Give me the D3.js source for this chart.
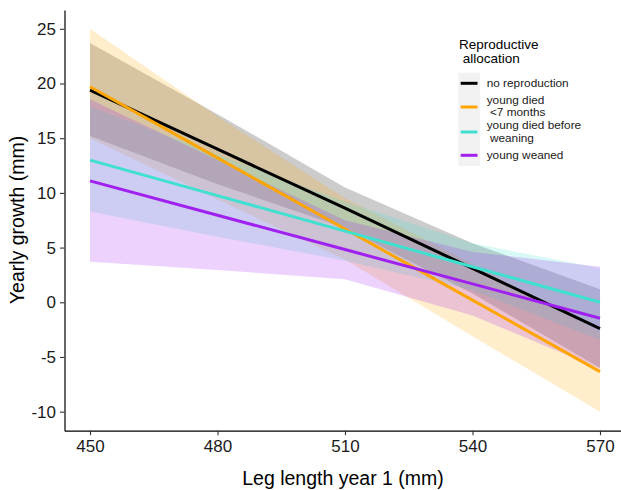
<!DOCTYPE html>
<html>
<head>
<meta charset="utf-8">
<script src="https://cdn.jsdelivr.net/npm/d3@7"></script>
<style>
  body { margin: 0; background: #fff; }
  text { font-family: "Liberation Sans", Arial, sans-serif; }
</style>
</head>
<body>
<svg width="621" height="490"></svg>
<script>
// Data
var legLength = [450, 480, 510, 540, 570];

var groupNames = ["no reproduction", "young died\n <7 months", "young died before\n weaning", "young weaned"];
var groupColors = ["#000000", "#FFA500", "#40E0D0", "#A020F0"];

// fitted yearly growth
var fitNone = [19.4, 14.0, 8.6, 3.1, -2.4];
var fitDied7 = [19.7, 13.2, 6.7, 0.2, -6.34];
var fitDiedWean = [13.0, 9.75, 6.5, 3.25, 0.0];
var fitWeaned = [11.1, 7.96, 4.82, 1.68, -1.46];

// confidence bands
var lowNone = [15.2, 10.8, 6.8, 0.8, -6.0];
var highNone = [23.7, 17.2, 10.5, 5.4, 1.2];
var lowDied7 = [15.0, 9.4, 3.9, -3.1, -10.0];
var highDied7 = [25.0, 17.0, 9.5, 3.5, -2.7];
var lowDiedWean = [8.3, 6.0, 3.8, 1.1, -3.45];
var highDiedWean = [17.9, 13.5, 9.2, 5.4, 3.1];
var lowWeaned = [3.7, 2.95, 2.1, -1.2, -6.1];
var highWeaned = [18.55, 13.0, 7.5, 4.6, 3.25];

var xTicks = [450, 480, 510, 540, 570];
var yTicks = [-10, -5, 0, 5, 10, 15, 20, 25];

var series = [
  {fit: fitNone, low: lowNone, high: highNone},
  {fit: fitDied7, low: lowDied7, high: highDied7},
  {fit: fitDiedWean, low: lowDiedWean, high: highDiedWean},
  {fit: fitWeaned, low: lowWeaned, high: highWeaned}
];

var svg = d3.select("svg");

// scales
var x = d3.scaleLinear().domain([444, 576]).range([64.5, 625.5]);
var y = d3.scaleLinear().domain([-11.74, 26.72]).range([430.7, 10]);

// ribbons
var area = d3.area()
    .x(function (d) { return x(d.x); })
    .y0(function (d) { return y(d.lo); })
    .y1(function (d) { return y(d.hi); });

var line = d3.line()
    .x(function (d) { return x(d.x); })
    .y(function (d) { return y(d.v); });

series.forEach(function (s, i) {
  var pts = legLength.map(function (v, j) {
    return {x: v, lo: s.low[j], hi: s.high[j]};
  });
  svg.append("path")
      .attr("d", area(pts))
      .attr("fill", groupColors[i])
      .attr("fill-opacity", 0.2);
});

series.forEach(function (s, i) {
  var pts = legLength.map(function (v, j) { return {x: v, v: s.fit[j]}; });
  svg.append("path")
      .attr("d", line(pts))
      .attr("fill", "none")
      .attr("stroke", groupColors[i])
      .attr("stroke-width", 3);
});

// axes (plain hyphen for negatives, like the original)
var fmt = function (d) { return String(d); };
var xAxis = svg.append("g")
    .attr("transform", "translate(0,430.7)")
    .call(d3.axisBottom(x).tickValues(xTicks).tickFormat(fmt)
      .tickSize(4.5).tickSizeOuter(0).tickPadding(5));
var yAxis = svg.append("g")
    .attr("transform", "translate(64.5,0)")
    .call(d3.axisLeft(y).tickValues(yTicks).tickFormat(fmt)
      .tickSize(4.5).tickSizeOuter(0).tickPadding(4));

[xAxis, yAxis].forEach(function (g) {
  g.select(".domain").attr("stroke", "#000").attr("stroke-width", 1.2);
  g.selectAll(".tick line").attr("stroke", "#333").attr("stroke-width", 1.1);
  g.selectAll(".tick text")
      .attr("fill", "#1a1a1a")
      .style("font-size", "17px")
      .style("font-family", "'Liberation Sans', Arial, sans-serif");
});

// axis titles
svg.append("text")
    .attr("x", 343)
    .attr("y", 485)
    .attr("text-anchor", "middle")
    .style("font-size", "19.5px")
    .text("Leg length year 1 (mm)");

svg.append("text")
    .attr("transform", "translate(24,220) rotate(-90)")
    .attr("text-anchor", "middle")
    .style("font-size", "19.5px")
    .text("Yearly growth (mm)");

// legend
var legend = svg.append("g");
legend.append("text").attr("x", 459).attr("y", 49)
    .style("font-size", "13.5px").text("Reproductive");
legend.append("text").attr("x", 459).attr("y", 63.3)
    .style("font-size", "13.5px").style("white-space", "pre").text(" allocation");

legend.append("rect")
    .attr("x", 458.3).attr("y", 72.7)
    .attr("width", 21.7).attr("height", 93.3)
    .attr("fill", "#f2f2f2");

var keyY = [83.3, 107, 132, 155.3];
var labelBase = [[87.3], [104, 116.3], [129.3, 141.7], [159]];

groupNames.forEach(function (name, i) {
  legend.append("line")
      .attr("x1", 460.7).attr("x2", 477.5)
      .attr("y1", keyY[i]).attr("y2", keyY[i])
      .attr("stroke", groupColors[i])
      .attr("stroke-width", 3);
  name.split("\n").forEach(function (part, k) {
    legend.append("text")
        .attr("x", 486.7)
        .attr("y", labelBase[i][k])
        .style("font-size", "11.8px")
        .style("white-space", "pre")
        .attr("fill", "#1a1a1a")
        .text(part);
  });
});
</script>
</body>
</html>
